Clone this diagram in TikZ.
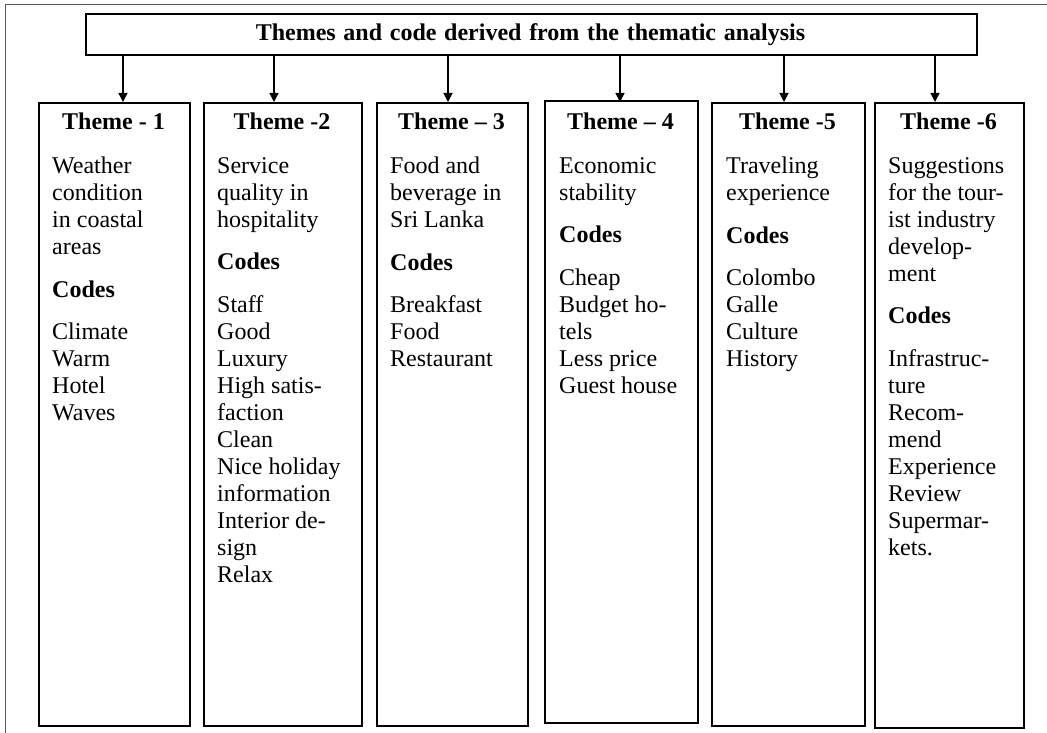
\documentclass[tikz,border=0pt]{standalone}
\usepackage{fontspec}
\setmainfont{Liberation Serif}
\usetikzlibrary{arrows.meta}
\begin{document}
\begin{tikzpicture}[x=1pt,y=-1pt,
  frame/.style={draw=black!65, line width=0.9pt},
  themebox/.style={draw, line width=1.6pt, anchor=north west, inner sep=0pt},
  titlebox/.style={draw, line width=1.6pt, anchor=north west, inner sep=0pt},
  head/.style={font=\fontsize{24}{27}\selectfont\bfseries, anchor=base, inner sep=0pt},
  body/.style={font=\fontsize{24}{27}\selectfont, anchor=north west, align=left, inner sep=0pt},
  conn/.style={-{Triangle[length=9pt,width=9pt]}, line width=1.3pt}]
\useasboundingbox (0,0) rectangle (1047,733);
\draw[frame] (5,733) -- (5,4) -- (1047,4);
% title
\node[titlebox, minimum width=891pt, minimum height=41pt] (top) at (85,13) {};
\node[font=\fontsize{24}{27}\selectfont\bfseries, inner sep=0pt, anchor=base] (title) at (530.5,41) {\spaceskip 7.7pt\relax Themes and code derived from the thematic analysis};
% theme boxes
\node[themebox, minimum width=151pt, minimum height=623pt] (b1) at (38,102) {};
\node[themebox, minimum width=158pt, minimum height=623pt] (b2) at (203,102) {};
\node[themebox, minimum width=151pt, minimum height=623pt] (b3) at (376,102) {};
\node[themebox, minimum width=153pt, minimum height=622pt] (b4) at (544,100) {};
\node[themebox, minimum width=153pt, minimum height=623pt] (b5) at (711,102) {};
\node[themebox, minimum width=149pt, minimum height=625pt] (b6) at (874,102) {};
% headers
\node[head] (h1) at (113.5,130) {Theme - 1};
\node[head] (h2) at (282,130) {Theme -2};
\node[head] (h3) at (451.5,130) {Theme -- 3};
\node[head] (h4) at (620.5,130) {Theme -- 4};
\node[head] (h5) at (787.5,130) {Theme -5};
\node[head] (h6) at (948.5,130) {Theme -6};
% bodies
\node[body] (c1) at (52,157) {Weather\\condition\\in coastal\\areas\\[15.5pt]\textbf{Codes}\\[15.5pt]Climate\\Warm\\Hotel\\Waves};
\node[body] (c2) at (217,157) {Service\\quality in\\hospitality\\[15.5pt]\textbf{Codes}\\[15.5pt]Staff\\Good\\Luxury\\High satis-\\faction\\Clean\\Nice holiday\\information\\Interior de-\\sign\\Relax};
\node[body] (c3) at (390,157) {Food and\\beverage in\\Sri Lanka\\[15.5pt]\textbf{Codes}\\[15.5pt]Breakfast\\Food\\Restaurant};
\node[body] (c4) at (559,157) {Economic\\stability\\[15.5pt]\textbf{Codes}\\[15.5pt]Cheap\\Budget ho-\\tels\\Less price\\Guest house};
\node[body] (c5) at (726,157) {Traveling\\experience\\[15.5pt]\textbf{Codes}\\[15.5pt]Colombo\\Galle\\Culture\\History};
\node[body] (c6) at (888,157) {Suggestions\\for the tour-\\ist industry\\develop-\\ment\\[15.5pt]\textbf{Codes}\\[15.5pt]Infrastruc-\\ture\\Recom-\\mend\\Experience\\Review\\Supermar-\\kets.};
% arrow targets
\coordinate (a1) at (123,102);
\coordinate (a2) at (274,102);
\coordinate (a3) at (448,102);
\coordinate (a4) at (620,102);
\coordinate (a5) at (784,102);
\coordinate (a6) at (935,102);
\foreach \i in {1,...,6} \draw[conn] (top.south -| a\i) -- (a\i);
\end{tikzpicture}
\end{document}
